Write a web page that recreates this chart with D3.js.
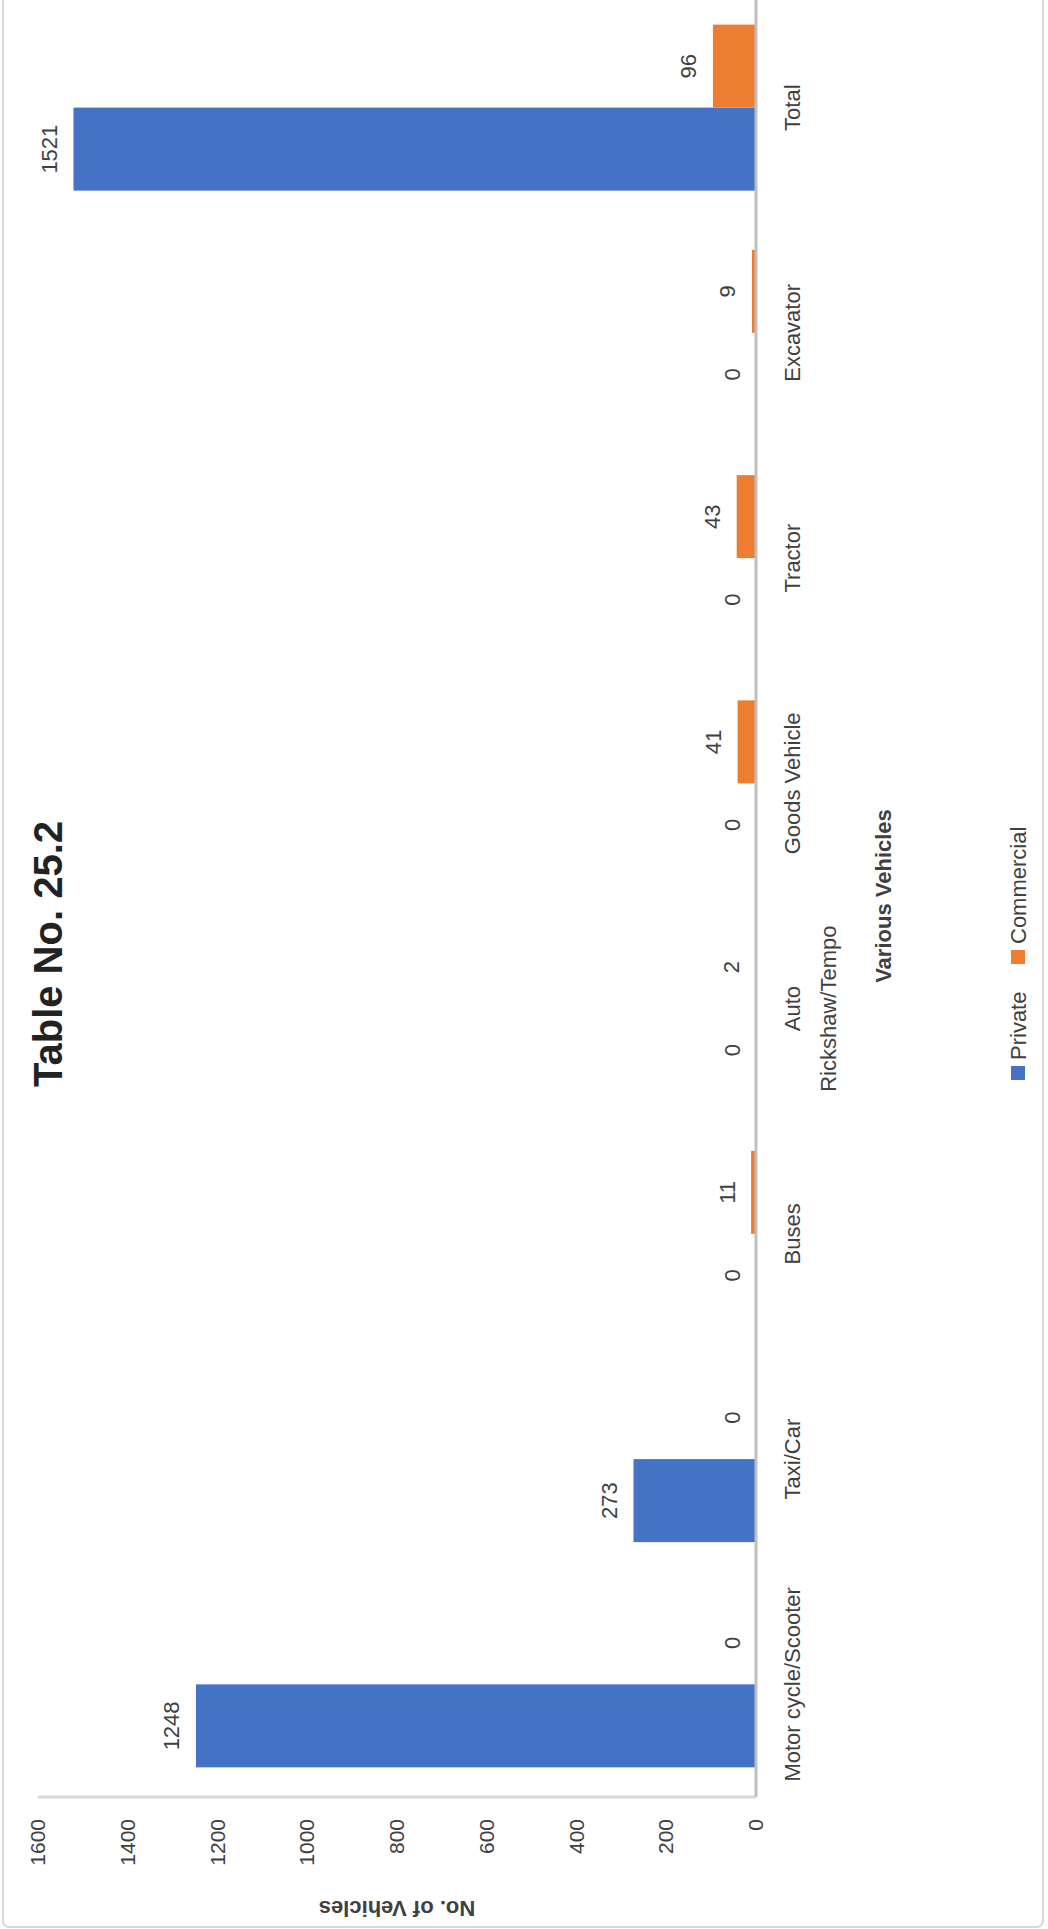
<!DOCTYPE html>
<html>
<head>
<meta charset="utf-8">
<script src="https://cdn.jsdelivr.net/npm/d3@7"></script>
<style>
  html, body { margin: 0; padding: 0; background: #fff; }
  svg { display: block; font-family: "Liberation Sans", Arial, sans-serif; }
</style>
</head>
<body>
<svg id="chart" width="1048" height="1929"></svg>
<script>
// ---- data ----
const categories = ["Motor cycle/Scooter", "Taxi/Car", "Buses", "Auto Rickshaw/Tempo", "Goods Vehicle", "Tractor", "Excavator", "Total"];
const seriesNames = ["Private", "Commercial"];
const privateValues = [1248, 273, 0, 0, 0, 0, 0, 1521];
const commercialValues = [0, 0, 11, 2, 41, 43, 9, 96];
const yTicks = [0, 200, 400, 600, 800, 1000, 1200, 1400, 1600];
const titleText = "Table No. 25.2";
const xTitle = "Various Vehicles";
const yTitle = "No. of Vehicles";

// ---- layout (chart drawn in its own frame, then rotated -90deg) ----
const PAGE_W = 1048, PAGE_H = 1929;
const colors = { Private: "#4472C4", Commercial: "#ED7D31" };
const textColor = "#404040";

const svg = d3.select("#chart");

// outer border (page coordinates)
svg.append("rect")
  .attr("x", 3).attr("y", -10).attr("width", 1040).attr("height", 1937)
  .attr("rx", 6).attr("fill", "#fff").attr("stroke", "#d9d9d9").attr("stroke-width", 2);

const g = svg.append("g").attr("transform", `translate(0,${PAGE_H}) rotate(-90)`);

const plotLeft = 132, plotRight = 1934, plotTop = 38, plotBottom = 756;

const x = d3.scaleBand().domain(categories).range([plotLeft, plotRight])
  .paddingInner(0.263).paddingOuter(0.1315);
const xs = d3.scaleBand().domain(seriesNames).range([0, x.bandwidth()]);
const y = d3.scaleLinear().domain([0, 1600]).range([plotBottom, plotTop]);

const data = categories.map((c, i) => ({
  cat: c,
  values: [
    { s: "Private", v: privateValues[i] },
    { s: "Commercial", v: commercialValues[i] }
  ]
}));

// value axis line (left of original plot)
g.append("line")
  .attr("x1", plotLeft).attr("x2", plotLeft)
  .attr("y1", y(1600)).attr("y2", y(0))
  .attr("stroke", "#d9d9d9").attr("stroke-width", 3);

// value axis tick labels
const yAxis = d3.axisLeft(y).tickValues(yTicks).tickSize(0).tickPadding(22).tickFormat(d3.format("d"));
const yAxisG = g.append("g").attr("transform", `translate(${plotLeft},0)`).call(yAxis);
yAxisG.select(".domain").remove();
yAxisG.selectAll("text")
  .attr("font-size", 21).attr("fill", textColor)
  .attr("font-family", "Liberation Sans, Arial, sans-serif");

// bars
const groups = g.append("g").selectAll("g").data(data).join("g")
  .attr("transform", d => `translate(${x(d.cat)},0)`);

groups.selectAll("rect").data(d => d.values).join("rect")
  .attr("x", d => xs(d.s))
  .attr("width", xs.bandwidth())
  .attr("y", d => y(d.v))
  .attr("height", d => y(0) - y(d.v))
  .attr("fill", d => colors[d.s]);

// data labels
groups.selectAll("text").data(d => d.values).join("text")
  .attr("x", d => xs(d.s) + xs.bandwidth() / 2)
  .attr("y", d => y(d.v) - 24)
  .attr("text-anchor", "middle")
  .attr("dominant-baseline", "central")
  .attr("font-size", 22)
  .attr("fill", textColor)
  .text(d => d.v);

// category axis line (baseline)
const xAxis = d3.axisBottom(x).tickSize(0).tickFormat("");
const xAxisG = g.append("g").attr("transform", `translate(0,${plotBottom})`).call(xAxis);
xAxisG.select(".domain").attr("stroke", "#bfbfbf").attr("stroke-width", 3)
  .attr("d", `M${plotLeft},0H${plotRight}`);

// category labels (wrapped if too wide)
const catLabels = g.append("g");
categories.forEach(c => {
  const t = catLabels.append("text")
    .attr("x", x(c) + x.bandwidth() / 2)
    .attr("y", 792)
    .attr("text-anchor", "middle")
    .attr("dominant-baseline", "central")
    .attr("font-size", 22)
    .attr("fill", textColor)
    .text(c);
  if (t.node().getComputedTextLength() > 205) {
    const words = c.split(" ");
    t.text(null);
    t.append("tspan").attr("x", x(c) + x.bandwidth() / 2).attr("dy", 0).text(words[0]);
    t.append("tspan").attr("x", x(c) + x.bandwidth() / 2).attr("dy", 36).text(words.slice(1).join(" "));
  }
});

// axis titles
g.append("text")
  .attr("x", (plotLeft + plotRight) / 2)
  .attr("y", 883)
  .attr("text-anchor", "middle").attr("dominant-baseline", "central")
  .attr("font-size", 22).attr("font-weight", "bold").attr("fill", textColor)
  .text(xTitle);

g.append("text")
  .attr("transform", `translate(21,${(y(0) + y(1600)) / 2}) rotate(-90)`)
  .attr("text-anchor", "middle").attr("dominant-baseline", "central")
  .attr("font-size", 22).attr("font-weight", "bold").attr("fill", textColor)
  .text(yTitle);

// chart title
g.append("text")
  .attr("x", 975).attr("y", 48)
  .attr("text-anchor", "middle").attr("dominant-baseline", "central")
  .attr("font-size", 40).attr("font-weight", "bold").attr("fill", "#222")
  .text(titleText);

// legend
const legendItems = [
  { s: "Private", x: 856 },
  { s: "Commercial", x: 972 }
];
const lg = g.append("g");
legendItems.forEach(it => {
  lg.append("rect")
    .attr("x", it.x - 7).attr("y", 1018 - 7).attr("width", 14).attr("height", 14)
    .attr("fill", colors[it.s]);
  lg.append("text")
    .attr("x", it.x + 13).attr("y", 1018)
    .attr("dominant-baseline", "central")
    .attr("font-size", 22).attr("fill", textColor)
    .text(it.s);
});
</script>
</body>
</html>
